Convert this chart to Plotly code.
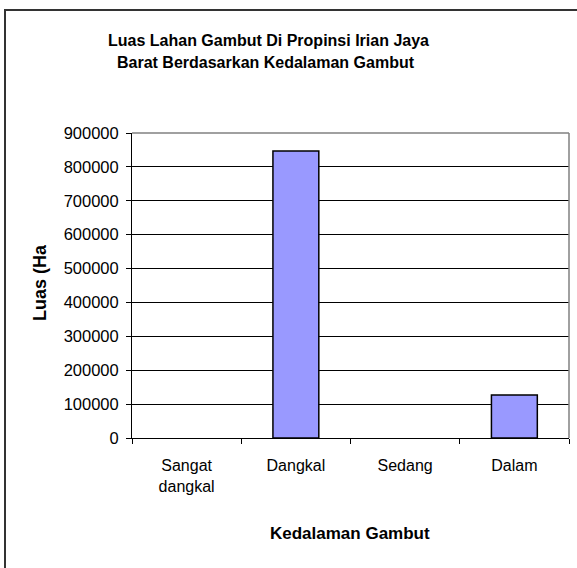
import plotly.graph_objects as go

# Peat area by depth class
categories = ["Sangat<br>dangkal", "Dangkal", "Sedang", "Dalam"]
luas_ha = [0, 847000, 0, 127000]
y_ticks = [0, 100000, 200000, 300000, 400000, 500000, 600000, 700000, 800000, 900000]

FONT = "Liberation Sans, Arial, sans-serif"

# plot area in pixels
W, H = 577, 568
L, R, T, B = 132, 8, 133, 130
pw, ph = W - L - R, H - T - B


def px_x(x):
    return (x - L) / pw


def px_y(y):
    return (H - B - y) / ph


# empty categories get no outline
outline_w = [1.5 if v > 0 else 0 for v in luas_ha]

fig = go.Figure(
    go.Bar(
        x=categories,
        y=luas_ha,
        width=0.42,
        marker=dict(color="#9999FF", line=dict(color="#000000", width=outline_w)),
    )
)

fig.update_layout(
    width=W,
    height=H,
    autosize=False,
    margin=dict(l=L, r=R, t=T, b=B, pad=0),
    paper_bgcolor="#FFFFFF",
    plot_bgcolor="#FFFFFF",
    showlegend=False,
    font=dict(family=FONT, size=16, color="#000000"),
    bargap=0.58,
)

fig.update_xaxes(
    type="category",
    showline=True,
    linecolor="#000000",
    linewidth=1,
    ticks="outside",
    tickson="boundaries",
    ticklen=5,
    tickcolor="#000000",
    tickfont=dict(family=FONT, size=16, color="#000000"),
    ticklabelstandoff=13,
    showgrid=False,
    zeroline=False,
)

fig.update_yaxes(
    range=[0, 900000],
    tickvals=y_ticks,
    ticktext=[str(v) for v in y_ticks],
    showline=True,
    linecolor="#000000",
    linewidth=1,
    ticks="outside",
    ticklen=5,
    tickcolor="#000000",
    tickfont=dict(family=FONT, size=16.5, color="#000000"),
    ticklabelstandoff=4,
    showgrid=True,
    gridcolor="#000000",
    gridwidth=1,
    zeroline=False,
)

# gray frame on top and right of plot area, outer chart border
fig.add_shape(type="line", xref="paper", yref="paper", x0=0, x1=1, y0=1, y1=1,
              line=dict(color="#808080", width=1.5), layer="above")
fig.add_shape(type="line", xref="paper", yref="paper", x0=1, x1=1, y0=0, y1=1,
              line=dict(color="#808080", width=1.5), layer="above")
fig.add_shape(type="rect", xref="paper", yref="paper",
              x0=px_x(5), x1=px_x(590), y0=px_y(590), y1=px_y(10),
              line=dict(color="#333333", width=2), layer="below")

fig.add_annotation(text="<b>Luas Lahan Gambut Di Propinsi Irian Jaya</b>",
                   xref="paper", yref="paper", x=px_x(268), y=px_y(40),
                   xanchor="center", yanchor="middle", showarrow=False,
                   font=dict(family=FONT, size=16, color="#000000"))
fig.add_annotation(text="<b>Barat Berdasarkan Kedalaman Gambut</b>",
                   xref="paper", yref="paper", x=px_x(266), y=px_y(63),
                   xanchor="center", yanchor="middle", showarrow=False,
                   font=dict(family=FONT, size=16, color="#000000"))
fig.add_annotation(text="<b>Luas (Ha</b>",
                   xref="paper", yref="paper", x=px_x(40), y=px_y(283),
                   xanchor="center", yanchor="middle", textangle=-90, showarrow=False,
                   font=dict(family=FONT, size=18, color="#000000"))
fig.add_annotation(text="<b>Kedalaman Gambut</b>",
                   xref="paper", yref="paper", x=px_x(350), y=px_y(533),
                   xanchor="center", yanchor="middle", showarrow=False,
                   font=dict(family=FONT, size=17, color="#000000"))

fig.write_html("out.html")
